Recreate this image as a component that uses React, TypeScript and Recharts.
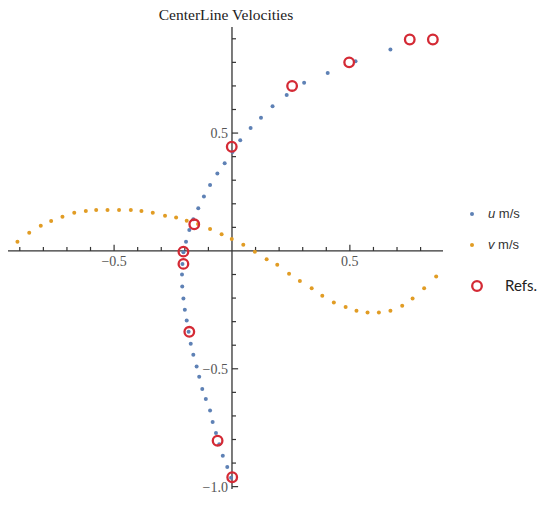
import React from "react";
import {
  ScatterChart,
  Scatter,
  XAxis,
  YAxis,
  ReferenceLine,
  ReferenceDot,
  Legend,
} from "recharts";

// u velocity along the centreline (x = u, y = position)
const uX = [
  0.672, 0.524, 0.406, 0.306, 0.232, 0.172, 0.123, 0.079, 0.035, 0.002,
  -0.031, -0.062, -0.093, -0.119, -0.143, -0.164, -0.181, -0.195, -0.206,
  -0.21, -0.212, -0.211, -0.206, -0.2, -0.192, -0.184, -0.175, -0.164, -0.15,
  -0.139, -0.126, -0.111, -0.093, -0.082, -0.068, -0.054, -0.039, -0.02,
  -0.004,
];
const uY = [
  0.855, 0.805, 0.755, 0.713, 0.662, 0.614, 0.565, 0.522, 0.47, 0.42, 0.372,
  0.329, 0.28, 0.231, 0.181, 0.134, 0.089, 0.039, -0.006, -0.055, -0.1,
  -0.151, -0.202, -0.25, -0.295, -0.343, -0.394, -0.44, -0.49, -0.534,
  -0.586, -0.628, -0.677, -0.726, -0.772, -0.82, -0.869, -0.917, -0.962,
];

// v velocity along the centreline (x = position, y = v)
const vX = [
  -0.91, -0.86, -0.811, -0.767, -0.719, -0.669, -0.62, -0.576, -0.528,
  -0.479, -0.429, -0.384, -0.336, -0.284, -0.237, -0.192, -0.144, -0.093,
  -0.044, -0.001, 0.048, 0.097, 0.147, 0.192, 0.242, 0.288, 0.338, 0.383,
  0.432, 0.482, 0.528, 0.575, 0.623, 0.672, 0.722, 0.766, 0.815, 0.866,
];
const vY = [
  0.039, 0.077, 0.107, 0.127, 0.145, 0.162, 0.169, 0.174, 0.174, 0.174,
  0.174, 0.169, 0.162, 0.149, 0.142, 0.128, 0.114, 0.093, 0.071, 0.051,
  0.026, -0.003, -0.035, -0.059, -0.097, -0.128, -0.158, -0.19, -0.219,
  -0.238, -0.254, -0.261, -0.261, -0.254, -0.233, -0.202, -0.158, -0.109,
];

// reference values
const refX = [0.852, 0.754, 0.497, 0.255, -0.001, -0.16, -0.206, -0.206, -0.181, -0.061, 0.001];
const refY = [0.897, 0.897, 0.8, 0.7, 0.442, 0.113, -0.003, -0.055, -0.343, -0.805, -0.96];

const xTicks = [-0.9, -0.8, -0.7, -0.6, -0.5, -0.4, -0.3, -0.2, -0.1, 0.1, 0.2, 0.3, 0.4, 0.5, 0.6, 0.7, 0.8];
const yTicks = [-1.0, -0.9, -0.8, -0.7, -0.6, -0.5, -0.4, -0.3, -0.2, -0.1, 0.1, 0.2, 0.3, 0.4, 0.5, 0.6, 0.7, 0.8, 0.9];
const xLabels = [-0.5, 0.5];
const yLabels = [-1.0, -0.5, 0.5];
const majorTicks = [-1.0, -0.5, 0.5];

const BLUE = "#5e81b5";
const ORANGE = "#e19c24";
const RED = "#d42a35";
const AXIS = "#333";

const zip = (xs: number[], ys: number[]) => xs.map((x, i) => ({ x, y: ys[i] }));
const uData = zip(uX, uY);
const vData = zip(vX, vY);
const refData = zip(refX, refY);

const fmt = (n: number) => (n < 0 ? "\u2212" : "") + Math.abs(n).toFixed(1);

const dot = (color: string) => (p: any) =>
  <circle cx={p.cx} cy={p.cy} r={2} fill={color} />;

const ring = (p: any) =>
  <circle cx={p.cx} cy={p.cy} r={4.8} fill="none" stroke={RED} strokeWidth={2.3} />;

const renderLegend = () => (
  <div style={{ position: "relative", width: 90, height: 100, fontFamily: "Liberation Sans, Arial, sans-serif", color: "#333" }}>
    <svg width={24} height={100} style={{ position: "absolute", left: 0, top: 0 }}>
      <circle cx={12} cy={14} r={2} fill={BLUE} />
      <circle cx={12} cy={45} r={2} fill={ORANGE} />
      <circle cx={17} cy={86} r={4.8} fill="none" stroke={RED} strokeWidth={2.3} />
    </svg>
    <div style={{ position: "absolute", left: 28, top: 6, fontSize: 13 }}>
      <i>u</i> m/s
    </div>
    <div style={{ position: "absolute", left: 28, top: 37, fontSize: 13 }}>
      <i>v</i> m/s
    </div>
    <div style={{ position: "absolute", left: 45, top: 76, fontSize: 15, fontFamily: "Lato, sans-serif", color: "#222" }}>
      Refs.
    </div>
  </div>
);

export default function App() {
  const minor = 0.017;
  const major = 0.026;
  return (
    <div style={{ position: "absolute", left: 0, top: 0, width: 550, height: 506, background: "#fff" }}>
      <div
        style={{
          position: "absolute",
          left: 0,
          width: 452,
          top: 6,
          textAlign: "center",
          fontFamily: "Liberation Serif, serif",
          fontSize: 15.5,
          color: "#222",
          zIndex: 2,
        }}
      >
        CenterLine Velocities
      </div>
      <ScatterChart width={550} height={506} margin={{ top: 27, right: 107, bottom: 17, left: 8 }}>
        <XAxis type="number" dataKey="x" domain={[-0.95, 0.895]} allowDataOverflow hide />
        <YAxis type="number" dataKey="y" domain={[-1.01, 0.95]} allowDataOverflow hide />
        <ReferenceLine y={0} stroke={AXIS} strokeWidth={1.3} />
        <ReferenceLine x={0} stroke={AXIS} strokeWidth={1.3} />
        {xTicks.map((t) => (
          <ReferenceLine
            key={"xt" + t}
            segment={[{ x: t, y: 0 }, { x: t, y: majorTicks.includes(t) ? major : minor }]}
            stroke={AXIS}
            strokeWidth={1.2}
          />
        ))}
        {yTicks.map((t) => (
          <ReferenceLine
            key={"yt" + t}
            segment={[{ x: 0, y: t }, { x: majorTicks.includes(t) ? major : minor, y: t }]}
            stroke={AXIS}
            strokeWidth={1.2}
          />
        ))}
        {xLabels.map((t) => (
          <ReferenceDot
            key={"xl" + t}
            x={t}
            y={0}
            r={0}
            fill="none"
            stroke="none"
            label={{ value: fmt(t), position: "bottom", offset: 5, fill: "#555", fontSize: 14, fontFamily: "Liberation Serif, serif" }}
          />
        ))}
        {yLabels.map((t) => (
          <ReferenceDot
            key={"yl" + t}
            x={0}
            y={t}
            r={0}
            fill="none"
            stroke="none"
            label={{ value: fmt(t), position: "left", offset: 4, fill: "#555", fontSize: 14, fontFamily: "Liberation Serif, serif" }}
          />
        ))}
        <Scatter name="u m/s" data={uData} shape={dot(BLUE)} isAnimationActive={false} />
        <Scatter name="v m/s" data={vData} shape={dot(ORANGE)} isAnimationActive={false} />
        <Scatter name="Refs." data={refData} shape={ring} isAnimationActive={false} />
        <Legend
          layout="vertical"
          align="center"
          verticalAlign="middle"
          content={renderLegend}
          wrapperStyle={{ left: 460, top: 200, width: 90, height: 100 }}
        />
      </ScatterChart>
    </div>
  );
}
